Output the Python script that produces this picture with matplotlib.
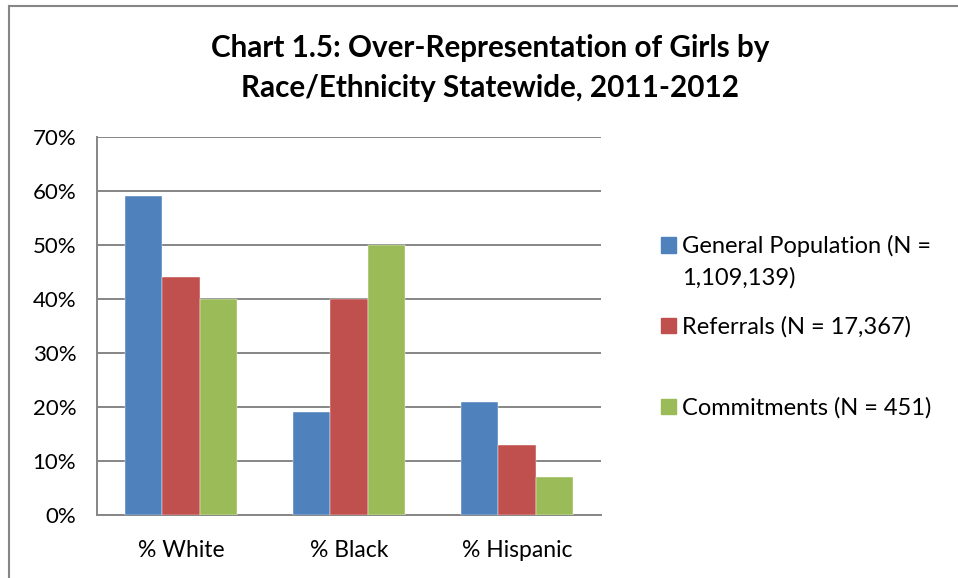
import numpy as np
import matplotlib
matplotlib.use('Agg')
import matplotlib.pyplot as plt
from matplotlib.lines import Line2D
from matplotlib.patches import Patch

categories = ['% White', '% Black', '% Hispanic']
series_names = ['General Population (N =', 'Referrals (N = 17,367)', 'Commitments (N = 451)']
general_pop = [59, 19, 21]
referrals = [44, 40, 13]
commitments = [40, 50, 7]
yticks = [0, 10, 20, 30, 40, 50, 60, 70]
colors = ['#4F81BD', '#C0504D', '#9BBB59']
title = 'Chart 1.5: Over-Representation of Girls by\nRace/Ethnicity Statewide, 2011-2012'

plt.rcParams['font.family'] = ['Lato', 'DejaVu Sans']

fig = plt.figure(figsize=(9.58, 5.78), dpi=100)
ax = fig.add_axes([97 / 958, 1 - 515 / 578, 504 / 958, 378 / 578])

x = np.arange(len(categories))
width = 0.222
for i, vals in enumerate([general_pop, referrals, commitments]):
    ax.bar(x + (i - 1) * width, vals, width, color=colors[i], zorder=3,
           edgecolor='white', linewidth=0.3)

ax.set_xlim(-0.5, 2.5)
ax.set_ylim(0, 70)
ax.set_yticks(yticks)
ax.set_yticklabels([f'{v}%' for v in yticks], fontsize=16)
ax.set_xticks(x)
ax.set_xticklabels(categories, fontsize=16.5)
ax.tick_params(length=0)
ax.tick_params(axis='y', pad=15)
ax.tick_params(axis='x', pad=18)
ax.grid(True, axis='y', color='#868686', linewidth=1.4, zorder=0)
for s in ['top', 'right']:
    ax.spines[s].set_visible(False)
for s in ['left', 'bottom']:
    ax.spines[s].set_color('#868686')
    ax.spines[s].set_linewidth(1.4)

fig.text(490 / 958, 1 - 68 / 578, title, ha='center', va='center',
         fontsize=21.3, fontweight='bold', linespacing=1.5)

# legend entries, placed like the Excel layout
legend_y = [246, 327, 408]
for i, name in enumerate(series_names):
    fig.legend([Patch(color=colors[i])], [name], loc='center left',
               bbox_to_anchor=(649 / 958, 1 - legend_y[i] / 578),
               frameon=False, fontsize=17, handlelength=0.65,
               handleheight=0.65, handletextpad=0.25, borderpad=0)
fig.text(682 / 958, 1 - 278 / 578, '1,109,139)', ha='left', va='center', fontsize=17)

# outer chart border (left and top visible)
fig.add_artist(Line2D([8.5 / 958, 8.5 / 958], [0, 1 - 5.5 / 578],
                      transform=fig.transFigure, color='#868686', linewidth=1.5))
fig.add_artist(Line2D([8.5 / 958, 1], [1 - 5.5 / 578, 1 - 5.5 / 578],
                      transform=fig.transFigure, color='#868686', linewidth=1.5))

fig.savefig('out.png', dpi=100)
